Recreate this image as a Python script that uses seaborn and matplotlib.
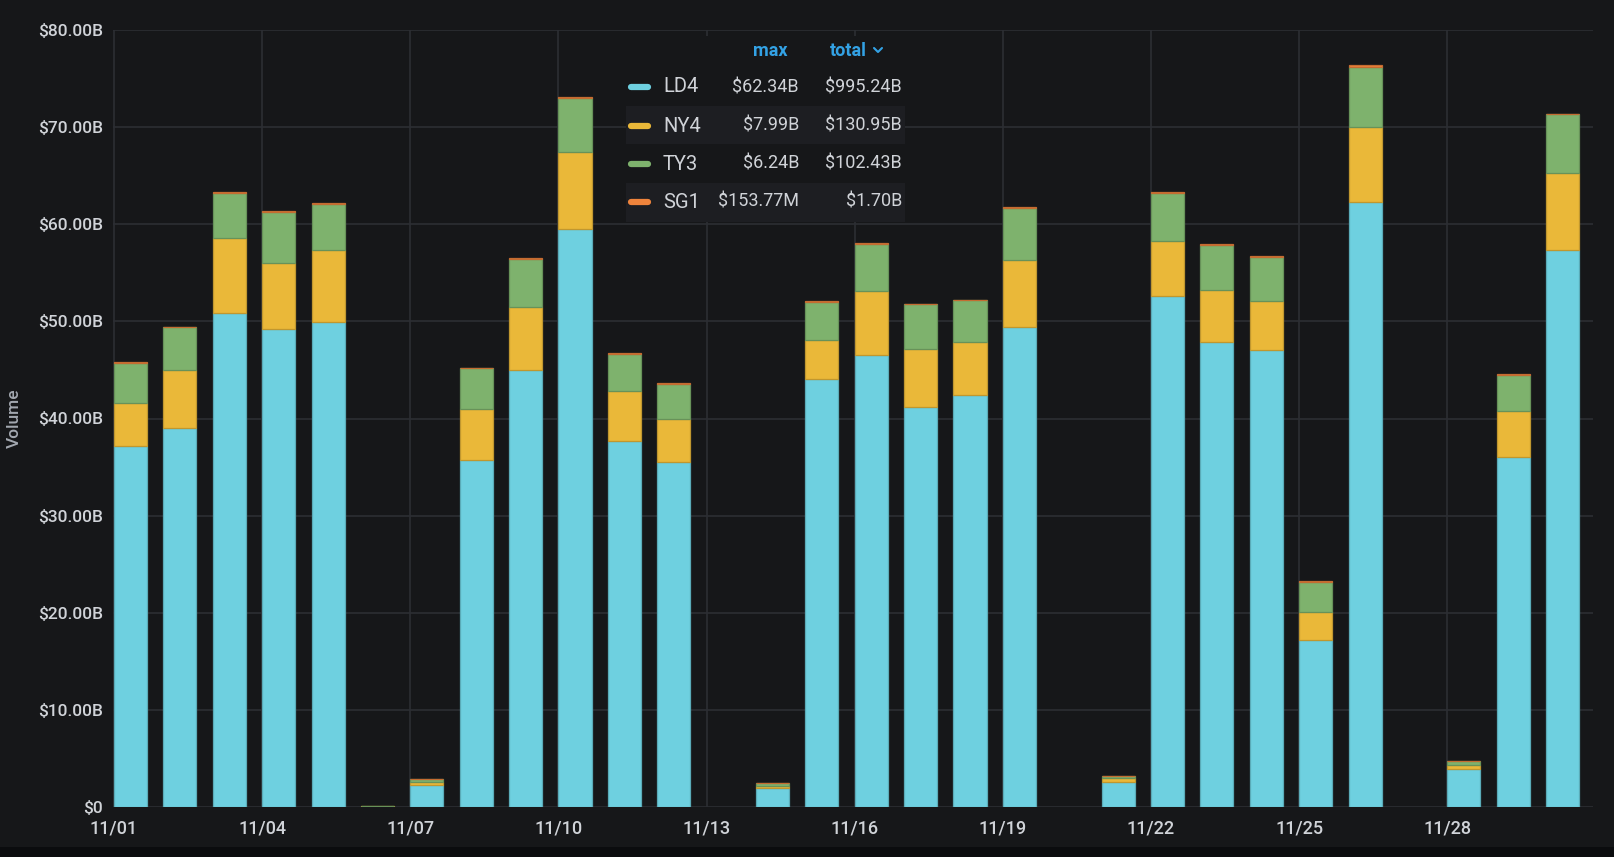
import numpy as np
import pandas as pd
import matplotlib
matplotlib.use("Agg")
import matplotlib.pyplot as plt
import matplotlib.colors as mcolors
import seaborn as sns
from matplotlib.patches import Rectangle
from matplotlib.lines import Line2D

# ---------------- data ----------------
days = [f"11/{d:02d}" for d in range(1, 31)]
ld4 = [37.2, 39.0, 50.9, 49.2, 49.95, 0.05, 2.3, 35.7, 44.95, 59.5, 37.7, 35.5, 0, 2.0, 44.1,
       46.5, 41.2, 42.4, 49.4, 0, 2.6, 52.6, 47.9, 47.1, 17.2, 62.34, 0, 3.9, 36.0, 57.4]
ny4 = [4.35, 5.95, 7.65, 6.8, 7.35, 0.02, 0.3, 5.3, 6.5, 7.99, 5.1, 4.46, 0, 0.2, 4.0,
       6.6, 6.0, 5.5, 6.9, 0, 0.35, 5.7, 5.3, 5.0, 2.9, 7.66, 0, 0.4, 4.8, 7.85]
ty3 = [4.15, 4.45, 4.65, 5.3, 4.8, 0.05, 0.3, 4.15, 5.0, 5.5, 3.85, 3.6, 0, 0.3, 3.9,
       4.9, 4.55, 4.3, 5.4, 0, 0.25, 4.9, 4.7, 4.5, 3.1, 6.24, 0, 0.4, 3.7, 6.05]
sg1 = [0.07, 0.05, 0.11, 0.09, 0.08, 0, 0.01, 0.06, 0.05, 0.1, 0.05, 0.05, 0, 0.01, 0.05,
       0.07, 0.09, 0.05, 0.08, 0, 0.01, 0.09, 0.07, 0.09, 0.04, 0.154, 0, 0.02, 0.05, 0.1]

series_names = ["LD4", "NY4", "TY3", "SG1"]
series_colors = ["#6ED0E0", "#EAB839", "#7EB26D", "#EF843C"]
legend_max = ["$62.34B", "$7.99B", "$6.24B", "$153.77M"]
legend_total = ["$995.24B", "$130.95B", "$102.43B", "$1.70B"]

yticks = [0, 10, 20, 30, 40, 50, 60, 70, 80]
ytick_labels = ["$0", "$10.00B", "$20.00B", "$30.00B", "$40.00B", "$50.00B",
                "$60.00B", "$70.00B", "$80.00B"]
xtick_labels = ["11/01", "11/04", "11/07", "11/10", "11/13", "11/16", "11/19", "11/22", "11/25", "11/28"]

# ---------------- style ----------------
W, H = 1615, 857
BG = "#161719"
GRID = "#2c2e33"
TXT = "#d0d3d8"

sns.set_theme(style="dark")
plt.rcParams["font.family"] = ["Roboto", "DejaVu Sans"]

fig = plt.figure(figsize=(W / 100, H / 100), dpi=100, facecolor=BG)
ax = fig.add_axes([113 / W, 1 - 807 / H, 1480 / W, 777 / H])
ax.set_facecolor(BG)

df = pd.DataFrame({"day": days, "LD4": ld4, "NY4": ny4, "TY3": ty3, "SG1": sg1})
bottoms = df[series_names].cumsum(axis=1) - df[series_names]

bar_w = 0.67
for name, col in zip(series_names, series_colors):
    edge = mcolors.to_hex(np.array(mcolors.to_rgb(col)) * 0.82)
    n_before = len(ax.patches)
    sns.barplot(x=df["day"], y=df[name], color=col, saturation=1, width=bar_w,
                edgecolor=edge, linewidth=0.9, errorbar=None, ax=ax, order=days, zorder=3)
    # stack the new segments on top of the previous series
    for p, b in zip(ax.patches[n_before:], bottoms[name]):
        p.set_y(b)
        if p.get_height() <= 0:
            p.set_linewidth(0)

half = bar_w / 2
ax.set_xlim(-half - 0.02, 29.95 - half)
ax.set_ylim(0, 80)
ax.set_xticks([days.index(t) - half for t in xtick_labels])
ax.set_xticklabels(xtick_labels)
ax.set_yticks(yticks)
ax.set_yticklabels(ytick_labels)
ax.set_axisbelow(True)
ax.grid(True, axis="both", color=GRID, linewidth=1.2, zorder=0)
for s in ax.spines.values():
    s.set_visible(False)
ax.tick_params(axis="both", length=0, colors=TXT)
ax.tick_params(axis="y", pad=7, labelsize=12.5)
ax.tick_params(axis="x", pad=9, labelsize=13)
for lab in ax.get_yticklabels() + ax.get_xticklabels():
    lab.set_fontweight("medium")
ax.set_xlabel("")
ax.set_ylabel("Volume", color="#a3a8b0", fontsize=12.5, fontweight="medium", labelpad=12)

# bottom panel edge
fig.patches.append(Rectangle((0, 0), 1, 10 / H, transform=fig.transFigure,
                             facecolor="#0b0c0e", edgecolor="none", zorder=1))

# ---------------- legend table ----------------
def fx(x):
    return x / W


def fy(y):
    return 1 - y / H


fig.patches.append(Rectangle((fx(626), fy(222)), fx(905) - fx(626), fy(36) - fy(222),
                             transform=fig.transFigure, facecolor=BG, edgecolor="none", zorder=2))
row_tops = [67, 106, 144, 183]
row_h = [39, 38, 39, 39]
for i, (t, h) in enumerate(zip(row_tops, row_h)):
    if i % 2 == 1:
        fig.patches.append(Rectangle((fx(626), fy(t + h)), fx(905) - fx(626), fy(t) - fy(t + h),
                                     transform=fig.transFigure, facecolor="#1d1e22",
                                     edgecolor="none", zorder=3))

HDR = "#33a2e5"
fig.text(fx(770), fy(51), "max", color=HDR, fontsize=13, fontweight="bold",
         ha="center", va="center", zorder=5)
fig.text(fx(867), fy(51), "total", color=HDR, fontsize=13, fontweight="bold",
         ha="right", va="center", zorder=5)
fig.lines.append(Line2D([fx(874), fx(878), fx(882)], [fy(48), fy(52), fy(48)],
                        transform=fig.transFigure, color=HDR, linewidth=1.5, zorder=5))

row_centers = [87, 126, 164, 202]
for name, col, mx, tot, yc in zip(series_names, series_colors, legend_max, legend_total, row_centers):
    fig.lines.append(Line2D([fx(631), fx(648)], [fy(yc), fy(yc)], transform=fig.transFigure,
                            color=col, linewidth=4.5, solid_capstyle="round", zorder=5))
    fig.text(fx(663), fy(yc), name, color=TXT, fontsize=14.5, ha="left", va="center", zorder=5)
    fig.text(fx(799), fy(yc), mx, color=TXT, fontsize=13, ha="right", va="center", zorder=5)
    fig.text(fx(902), fy(yc), tot, color=TXT, fontsize=13, ha="right", va="center", zorder=5)

fig.savefig("out.png", dpi=100, facecolor=BG)
